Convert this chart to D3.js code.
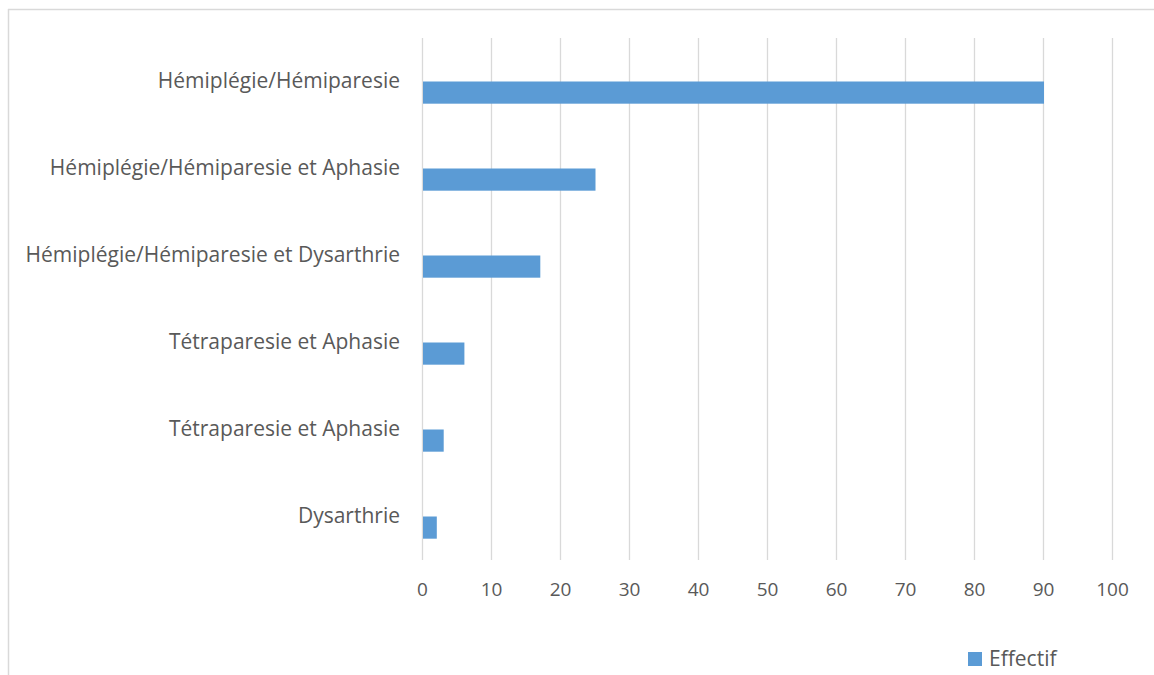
<!DOCTYPE html>
<html>
<head>
<meta charset="utf-8">
<script src="https://cdn.jsdelivr.net/npm/d3@7"></script>
<style>
  html, body { margin: 0; padding: 0; background: #fff; }
  svg { display: block; }
  text { font-family: "Open Sans", "Noto Sans", sans-serif; fill: #595959; }
</style>
</head>
<body>
<svg id="chart" width="1154" height="675"></svg>
<script>
const categories = [
  "Hémiplégie/Hémiparesie",
  "Hémiplégie/Hémiparesie et Aphasie",
  "Hémiplégie/Hémiparesie et Dysarthrie",
  "Tétraparesie et Aphasie",
  "Tétraparesie et Aphasie",
  "Dysarthrie"
];
const values = [90, 25, 17, 6, 3, 2];
const xTicks = [0, 10, 20, 30, 40, 50, 60, 70, 80, 90, 100];
const seriesName = "Effectif";

const svg = d3.select("#chart");
const W = 1154, H = 675;
const color = "#5b9bd5";
const grid = "#d9d9d9";

// frame (top and left visible)
svg.append("line").attr("x1", 8).attr("x2", W).attr("y1", 9.5).attr("y2", 9.5)
  .attr("stroke", grid).attr("stroke-width", 1.5);
svg.append("line").attr("x1", 8.5).attr("x2", 8.5).attr("y1", 9).attr("y2", H)
  .attr("stroke", grid).attr("stroke-width", 1.5);

const plot = { left: 422, right: 1112, top: 38, bottom: 560 };

const x = d3.scaleLinear().domain([0, 100]).range([plot.left, plot.right]);
const idx = categories.map((c, i) => i);
const y = d3.scaleBand().domain(idx).range([plot.top, plot.bottom]).padding(0);

// gridlines
svg.append("g").selectAll("line").data(xTicks).join("line")
  .attr("x1", d => x(d) + 0.5).attr("x2", d => x(d) + 0.5)
  .attr("y1", plot.top).attr("y2", plot.bottom)
  .attr("stroke", grid).attr("stroke-width", 1.3);

// x tick labels
const xAxis = d3.axisBottom(x).tickValues(xTicks).tickSize(0).tickPadding(0);
const gx = svg.append("g").attr("transform", `translate(0,${plot.bottom})`).call(xAxis);
gx.select(".domain").remove();
gx.selectAll("text")
  .attr("dy", null).attr("y", 36)
  .style("font-family", '"Open Sans", "Noto Sans", sans-serif')
  .style("font-size", "19px").attr("fill", "#595959");

// y labels
const yAxis = d3.axisLeft(y).tickFormat(i => categories[i]).tickSize(0).tickPadding(0);
const gy = svg.append("g").attr("transform", `translate(400,0)`).call(yAxis);
gy.select(".domain").remove();
gy.selectAll("text")
  .attr("dy", "0.3em")
  .style("font-family", '"Open Sans", "Noto Sans", sans-serif')
  .style("font-size", "21px").attr("fill", "#595959");

// bars
svg.append("g").selectAll("rect").data(values).join("rect")
  .attr("x", x(0) + 1)
  .attr("y", (d, i) => y(i) + y.bandwidth() / 2)
  .attr("width", d => x(d) - x(0))
  .attr("height", y.bandwidth() * 0.255)
  .attr("fill", color);

// legend
const lg = svg.append("g").attr("transform", "translate(968,652)");
lg.append("rect").attr("width", 14).attr("height", 14).attr("fill", color);
lg.append("text").attr("x", 21).attr("y", 14)
  .style("font-size", "21px").text(seriesName);
</script>
</body>
</html>
